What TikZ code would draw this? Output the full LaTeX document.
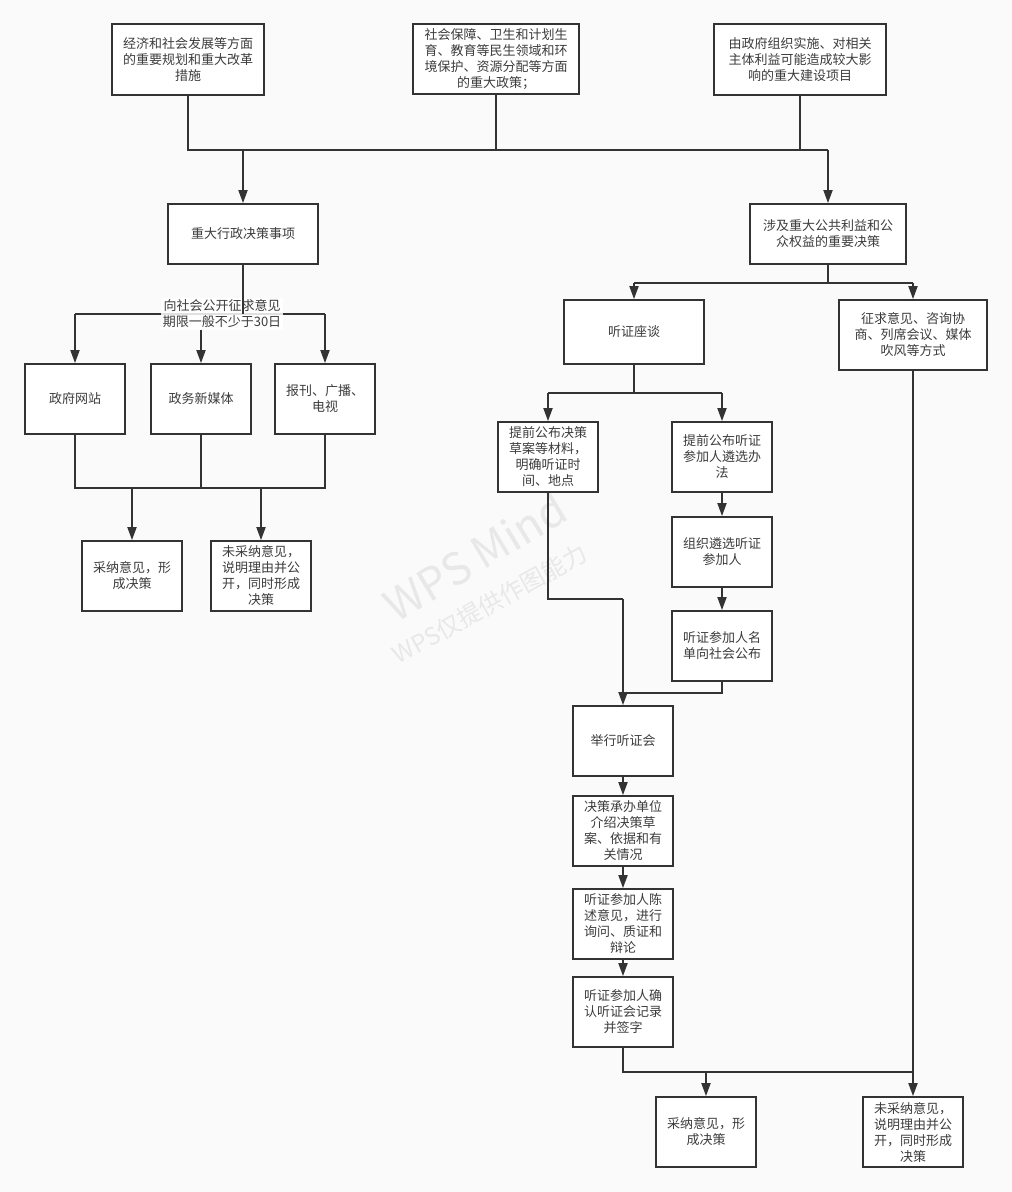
\documentclass[tikz,border=0pt]{standalone}
\usepackage{fontspec}
\setmainfont{Noto Sans CJK SC}
\usetikzlibrary{arrows.meta}
\definecolor{line}{RGB}{51,51,51}
\definecolor{txt}{RGB}{60,60,60}
\definecolor{bg}{RGB}{250,250,250}
\definecolor{mark}{RGB}{232,232,232}
\begin{document}
\begin{tikzpicture}[x=1pt,y=-1pt,>={Triangle[length=13pt,width=9pt]}]

% size of each node
\def\szw{100pt}
\def\szh{70pt}
% node style definition
\tikzstyle{block} = [
	draw=line, line width=1.8pt, fill=white, rectangle, align=center,
	text=txt, font=\fontsize{13}{16}\selectfont, inner sep=0pt,
	minimum height=\szh, minimum width=\szw ];
\tikzstyle{link} = [draw=line, line width=1.8pt];
\tikzstyle{plain} = [draw=none,fill=none];

\fill[bg] (0,0) rectangle (1012,1192);
\useasboundingbox (0,0) rectangle (1012,1192);

% watermark
\node[plain,text=mark,rotate=31,font=\fontsize{44}{44}\selectfont] (wm1) at (475,556) {WPS Mind};
\node[plain,text=mark,rotate=29,font=\fontsize{24}{24}\selectfont] (wm2) at (490,604) {WPS仅提供作图能力};

\node[block,minimum width=152pt,minimum height=71pt] (t1) at (188,59.5) {经济和社会发展等方面\\的重要规划和重大改革\\措施};
\node[block,minimum width=166pt] (t2) at (496,59) {社会保障、卫生和计划生\\育、教育等民生领域和环\\境保护、资源分配等方面\\的重大政策；};
\node[block,minimum width=172pt,minimum height=71pt] (t3) at (800,59.5) {由政府组织实施、对相关\\主体利益可能造成较大影\\响的重大建设项目};

\node[block,minimum width=150pt,minimum height=60pt] (a) at (243,234) {重大行政决策事项};
\node[block,minimum width=156pt,minimum height=60pt] (b) at (828,234) {涉及重大公共利益和公\\众权益的重要决策};

\coordinate (j0) at (0,150);
\draw[link] (t1) -- (t1 |- j0) -- (b |- j0);
\draw[link] (t2) -- (t2 |- j0);
\draw[link] (t3) -- (t3 |- j0);
\draw[link,->] (a |- j0) -- (a);
\draw[link,->] (b |- j0) -- (b);

% left side
\node[block] (m1) at (75,399) {政府网站};
\node[block] (m2) at (201,399) {政务新媒体};
\node[block] (m3) at (325,399) {报刊、广播、\\电视};
\node[block] (r1) at (132,576) {采纳意见，形\\成决策};
\node[block] (r2) at (261,576) {未采纳意见，\\说明理由并公\\开，同时形成\\决策};

\coordinate (j1) at (0,314);
\draw[link] (m1 |- j1) -- (m3 |- j1);
\node[plain,fill=white,fill opacity=.85,text opacity=1,text=txt,align=center,
	inner sep=1.5pt,font=\fontsize{13}{16}\selectfont] (lbl) at (222,314) {向社会公开征求意见\\期限一般不少于30日};
\draw[link] (a) -- (a |- j1);
\draw[link,->] (m1 |- j1) -- (m1);
\draw[link,->] (lbl.south -| m2) -- (m2);
\draw[link,->] (m3 |- j1) -- (m3);

\coordinate (j2) at (0,488);
\draw[link] (m1) -- (m1 |- j2) -- (m3 |- j2) -- (m3);
\draw[link] (m2) -- (m2 |- j2);
\draw[link,->] (r1 |- j2) -- (r1);
\draw[link,->] (r2 |- j2) -- (r2);

% right side
\node[block,minimum width=140pt,minimum height=64pt] (h) at (634,332) {听证座谈};
\node[block,minimum width=148pt] (q) at (913,335) {征求意见、咨询协\\商、列席会议、媒体\\吹风等方式};

\coordinate (j3) at (0,283);
\draw[link] (b) -- (b |- j3);
\draw[link] (h |- j3) -- (q |- j3);
\draw[link,->] (h |- j3) -- (h);
\draw[link,->] (q |- j3) -- (q);

\node[block] (c1) at (548,457) {提前公布决策\\草案等材料，\\明确听证时\\间、地点};
\node[block] (c2) at (722,457) {提前公布听证\\参加人遴选办\\法};
\node[block] (c3) at (722,552) {组织遴选听证\\参加人};
\node[block] (c4) at (722,646) {听证参加人名\\单向社会公布};

\coordinate (j4) at (0,393);
\draw[link] (h) -- (h |- j4);
\draw[link] (c1 |- j4) -- (c2 |- j4);
\draw[link,->] (c1 |- j4) -- (c1);
\draw[link,->] (c2 |- j4) -- (c2);
\draw[link,->] (c2) -- (c3);
\draw[link,->] (c3) -- (c4);

\node[block] (d0) at (623,741) {举行听证会};
\node[block] (d1) at (623,831) {决策承办单位\\介绍决策草\\案、依据和有\\关情况};
\node[block] (d2) at (623,924) {听证参加人陈\\述意见，进行\\询问、质证和\\辩论};
\node[block] (d3) at (623,1012) {听证参加人确\\认听证会记录\\并签字};

\coordinate (j5) at (0,599);
\coordinate (j6) at (0,693);
\draw[link] (c1) -- (c1 |- j5) -- (d0 |- j5);
\draw[link] (c4) -- (c4 |- j6) -- (d0 |- j6);
\draw[link,->] (d0 |- j5) -- (d0);
\draw[link,->] (d0) -- (d1);
\draw[link,->] (d1) -- (d2);
\draw[link,->] (d2) -- (d3);

\node[block] (e1) at (706,1132) {采纳意见，形\\成决策};
\node[block] (e2) at (913,1132) {未采纳意见，\\说明理由并公\\开，同时形成\\决策};

\coordinate (j7) at (0,1072);
\draw[link] (d3) -- (d3 |- j7) -- (e2 |- j7);
\draw[link] (q) -- (q |- j7);
\draw[link,->] (e1 |- j7) -- (e1);
\draw[link,->] (e2 |- j7) -- (e2);

\end{tikzpicture}
\end{document}
